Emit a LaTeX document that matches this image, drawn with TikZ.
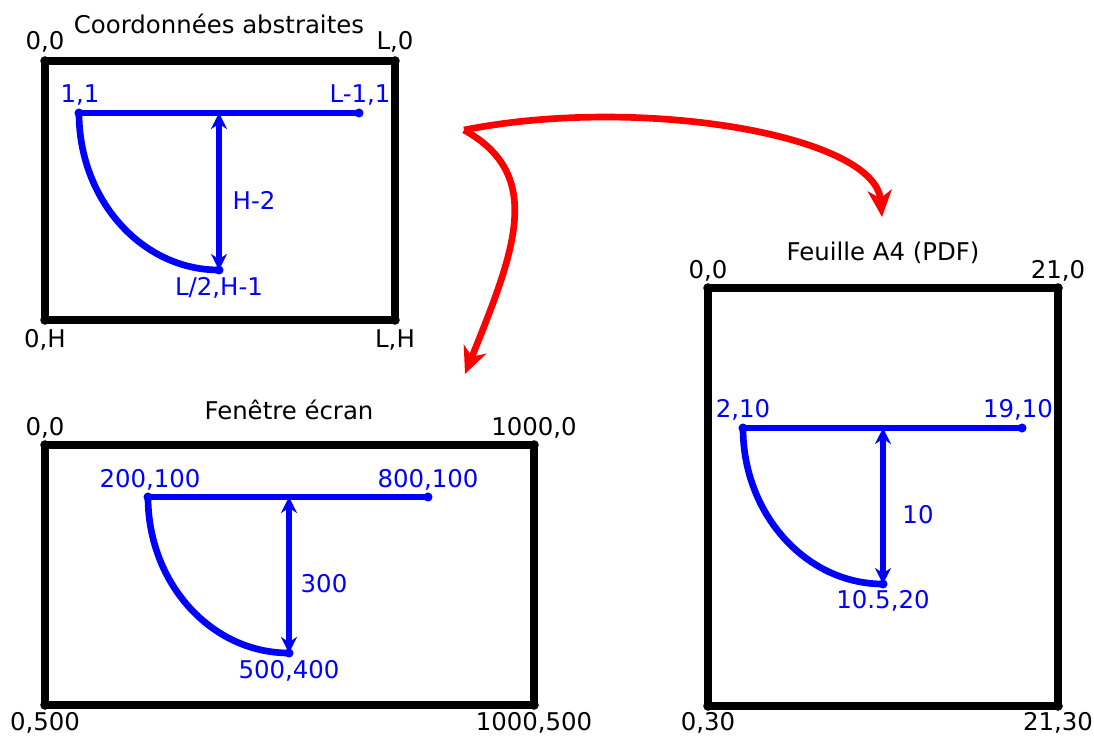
\documentclass[tikz,border=0pt]{standalone}
\usepackage{fontspec}
\setmainfont{DejaVu Sans}
\usetikzlibrary{arrows.meta}

\tikzset{
  cadre/.style={line width=5.8pt,line join=round},
  trace/.style={blue,line width=5pt},
  cote/.style={blue,line width=4.8pt,{Stealth[length=12pt,width=12pt]}-{Stealth[length=12pt,width=12pt]}},
  lien/.style={red,line width=5pt,-{Stealth[length=20pt,width=18pt,inset=6pt]}},
  lbl/.style={inner sep=0pt,font=\fontsize{18.3}{22}\selectfont},
  blbl/.style={lbl,text=blue},
}

\begin{document}
\begin{tikzpicture}[x=0.75pt,y=-0.75pt]
    \useasboundingbox (0,0) rectangle (1094,736);

    % coordonnees abstraites
    \coordinate (a00) at (45,61);  \coordinate (aL0) at (395,61);
    \coordinate (a0H) at (45,320); \coordinate (aLH) at (395,320);
    \draw[cadre] (a00) -- (aL0) -- (aLH) -- (a0H) -- cycle;
    \foreach \c in {a00,aL0,a0H,aLH} \fill (\c) circle[radius=3.6pt];
    \node[lbl] (at) at (219,24) {Coordonnées abstraites};
    \node[lbl] (ta00) at (45,42) {0,0};
    \node[lbl] (taL0) at (395,42) {L,0};
    \node[lbl] (ta0H) at (45,340) {0,H};
    \node[lbl] (taLH) at (395,340) {L,H};
    \coordinate (ap1) at (79,113); \coordinate (ap2) at (359,113);
    \coordinate (am) at (219,113); \coordinate (ap3) at (219,270);
    \draw[trace] (ap1) -- (ap2);
    \draw[trace] (ap1) .. controls (79,200) and (142,270) .. (ap3);
    \draw[cote] (am) -- (ap3);
    \foreach \c in {ap1,ap2,ap3} \fill[blue] (\c) circle[radius=3.4pt];
    \node[blbl] (tap1) at (80,95) {1,1};
    \node[blbl] (tap2) at (360,95) {L-1,1};
    \node[blbl] (tah) at (254,200) {H-2};
    \node[blbl] (tap3) at (219,288) {L/2,H-1};

    % fenetre ecran
    \coordinate (e00) at (45,445);  \coordinate (eL0) at (534,445);
    \coordinate (e0H) at (45,705);  \coordinate (eLH) at (534,705);
    \draw[cadre] (e00) -- (eL0) -- (eLH) -- (e0H) -- cycle;
    \foreach \c in {e00,eL0,e0H,eLH} \fill (\c) circle[radius=3.6pt];
    \node[lbl] (et) at (289,410) {Fenêtre écran};
    \node[lbl] (te00) at (45,428) {0,0};
    \node[lbl] (teL0) at (534,428) {1000,0};
    \node[lbl] (te0H) at (45,723) {0,500};
    \node[lbl] (teLH) at (534,723) {1000,500};
    \coordinate (ep1) at (148,497); \coordinate (ep2) at (428,497);
    \coordinate (em) at (289,497);  \coordinate (ep3) at (289,653);
    \draw[trace] (ep1) -- (ep2);
    \draw[trace] (ep1) .. controls (148,583) and (211,653) .. (ep3);
    \draw[cote] (em) -- (ep3);
    \foreach \c in {ep1,ep2,ep3} \fill[blue] (\c) circle[radius=3.4pt];
    \node[blbl] (tep1) at (150,480) {200,100};
    \node[blbl] (tep2) at (428,480) {800,100};
    \node[blbl] (teh) at (324,584) {300};
    \node[blbl] (tep3) at (289,671) {500,400};

    % feuille A4
    \coordinate (f00) at (708,288);  \coordinate (fL0) at (1058,288);
    \coordinate (f0H) at (708,706);  \coordinate (fLH) at (1058,706);
    \draw[cadre] (f00) -- (fL0) -- (fLH) -- (f0H) -- cycle;
    \foreach \c in {f00,fL0,f0H,fLH} \fill (\c) circle[radius=3.6pt];
    \node[lbl] (ft) at (883,253) {Feuille A4 (PDF)};
    \node[lbl] (tf00) at (708,271) {0,0};
    \node[lbl] (tfL0) at (1058,271) {21,0};
    \node[lbl] (tf0H) at (708,723) {0,30};
    \node[lbl] (tfLH) at (1058,723) {21,30};
    \coordinate (fp1) at (743,428); \coordinate (fp2) at (1022,428);
    \coordinate (fm) at (883,428);  \coordinate (fp3) at (883,584);
    \draw[trace] (fp1) -- (fp2);
    \draw[trace] (fp1) .. controls (743,514) and (806,584) .. (fp3);
    \draw[cote] (fm) -- (fp3);
    \foreach \c in {fp1,fp2,fp3} \fill[blue] (\c) circle[radius=3.4pt];
    \node[blbl] (tfp1) at (743,410) {2,10};
    \node[blbl] (tfp2) at (1018,410) {19,10};
    \node[blbl] (tfh) at (918,515) {10};
    \node[blbl] (tfp3) at (883,601) {10.5,20};

    % fleches rouges
    \coordinate (src) at (464,130);
    \coordinate (vA4) at (882,217);
    \coordinate (vEc) at (465,374);
    \draw[lien] (src) .. controls (640,95) and (875,135) .. (vA4);
    \draw[lien] (src) .. controls (545,175) and (515,250) .. (vEc);
\end{tikzpicture}
\end{document}
